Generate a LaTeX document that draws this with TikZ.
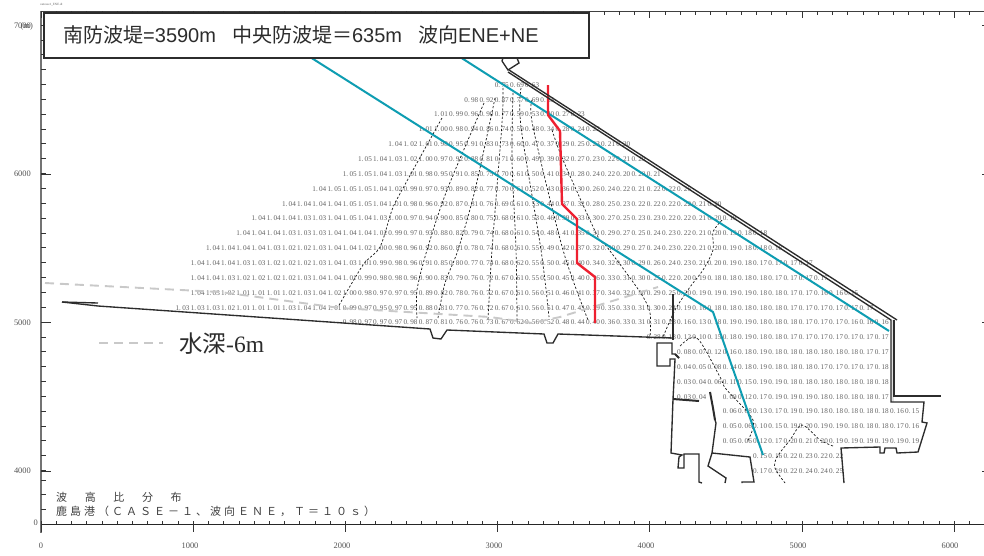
\documentclass[tikz,border=0pt]{standalone}
\usepackage{fontspec}
\setmainfont{Liberation Serif}
\newfontfamily\cjk{Noto Sans CJK JP}
\newfontfamily\sanslat{Liberation Sans}
\definecolor{tealline}{HTML}{0E9DB2}
\definecolor{redline}{HTML}{EE2030}
\definecolor{darkline}{HTML}{2C2C2C}
\definecolor{numgrey}{HTML}{626262}
\definecolor{dashgrey}{HTML}{C9C9C9}
\def\splitnum#1.#2\relax{#1.\kern1.3pt #2}
\newcommand{\numrow}[3]{%
  \foreach \v [count=\i from 0] in {#3} {%
    \pgfmathsetmacro{\cx}{677-(#2)*15.2+\i*15.2}
    \pgfmathsetmacro{\cy}{174+(#1)*14.85}
    \node[cellnum] (r#1c\i) at (\cx,\cy) {\expandafter\splitnum\v\relax};
  }%
}
\newcommand{\spacedtext}[2]{\foreach \c in {#2}{\makebox[#1][l]{\c}}}
\tikzset{
  cellnum/.style={anchor=west,inner sep=0pt,font=\fontsize{7.2}{8}\selectfont\rmfamily,text=numgrey},
  axislabel/.style={inner sep=0pt,font=\fontsize{8.4}{9}\selectfont,text=numgrey!85!black},
  contourline/.style={draw=black!90,line width=0.7pt,dash pattern=on 2.2pt off 1.9pt},
  shore/.style={draw=darkline,line width=1.35pt,line join=miter},
  tealpath/.style={draw=tealline,line width=2pt},
  redpath/.style={draw=redline,line width=2.4pt},
  greydash/.style={draw=dashgrey,line width=1.9pt,dash pattern=on 9pt off 6pt},
  tickline/.style={draw=black!80,line width=0.7pt}
}
\begin{document}
\begin{tikzpicture}[x=1pt,y=-1pt]
\useasboundingbox (0,0) rectangle (984,555);
\fill[white] (0,0) rectangle (984,555);

% numbers
\numrow{-6}{12}{0.75,0.69,0.63}
\numrow{-5}{14}{0.98,0.92,0.87,0.77,0.69,0.63}
\numrow{-4}{16}{1.01,0.99,0.96,0.90,0.77,0.59,0.53,0.40,0.27,0.23}
\numrow{-3}{17}{1.01,1.00,0.98,0.94,0.86,0.74,0.59,0.48,0.34,0.28,0.24,0.22}
\numrow{-2}{19}{1.04,1.02,1.01,0.98,0.95,0.91,0.83,0.73,0.60,0.47,0.37,0.29,0.25,0.23,0.21,0.20}
\numrow{-1}{21}{1.05,1.04,1.03,1.02,1.00,0.97,0.92,0.88,0.81,0.71,0.60,0.49,0.39,0.32,0.27,0.23,0.22,0.21,0.20}
\numrow{0}{22}{1.05,1.05,1.04,1.03,1.01,0.98,0.95,0.91,0.85,0.75,0.70,0.61,0.50,0.41,0.34,0.28,0.24,0.22,0.20,0.20,0.21}
\numrow{1}{24}{1.04,1.05,1.05,1.05,1.04,1.02,0.99,0.97,0.93,0.89,0.82,0.77,0.70,0.61,0.52,0.43,0.36,0.30,0.26,0.24,0.22,0.21,0.22,0.22,0.25}
\numrow{2}{26}{1.04,1.04,1.04,1.04,1.05,1.05,1.04,1.01,0.98,0.96,0.92,0.87,0.81,0.76,0.69,0.61,0.53,0.44,0.37,0.32,0.28,0.25,0.23,0.22,0.22,0.22,0.22,0.21,0.20}
\numrow{3}{28}{1.04,1.04,1.04,1.03,1.03,1.04,1.05,1.04,1.03,1.00,0.97,0.94,0.90,0.85,0.80,0.75,0.68,0.61,0.53,0.46,0.39,0.33,0.30,0.27,0.25,0.23,0.23,0.22,0.22,0.21,0.20,0.19}
\numrow{4}{29}{1.04,1.04,1.04,1.03,1.03,1.03,1.04,1.04,1.04,1.02,0.99,0.97,0.93,0.88,0.82,0.79,0.74,0.68,0.61,0.54,0.48,0.41,0.35,0.31,0.29,0.27,0.25,0.24,0.23,0.22,0.21,0.20,0.19,0.18,0.18}
\numrow{5}{31}{1.04,1.04,1.04,1.04,1.03,1.02,1.02,1.03,1.04,1.04,1.02,1.00,0.98,0.96,0.92,0.86,0.81,0.78,0.74,0.68,0.61,0.55,0.49,0.42,0.37,0.32,0.30,0.29,0.27,0.24,0.23,0.22,0.21,0.20,0.19,0.18,0.18,0.18}
\numrow{6}{32}{1.04,1.04,1.04,1.03,1.03,1.02,1.02,1.02,1.03,1.04,1.03,1.01,0.99,0.98,0.96,0.91,0.85,0.80,0.77,0.74,0.68,0.62,0.55,0.50,0.45,0.40,0.34,0.32,0.30,0.29,0.26,0.24,0.23,0.21,0.20,0.19,0.18,0.17,0.17,0.17,0.17}
\numrow{7}{32}{1.04,1.04,1.03,1.02,1.02,1.02,1.02,1.03,1.04,1.04,1.01,0.99,0.98,0.98,0.96,0.90,0.83,0.79,0.76,0.72,0.67,0.61,0.55,0.50,0.45,0.40,0.36,0.33,0.31,0.30,0.25,0.22,0.20,0.19,0.18,0.18,0.18,0.18,0.17,0.17,0.17,0.17}
\numrow{8}{32}{1.04,1.03,1.02,1.01,1.01,1.01,1.02,1.03,1.04,1.02,1.00,0.98,0.97,0.97,0.95,0.89,0.82,0.78,0.76,0.72,0.67,0.61,0.56,0.51,0.46,0.41,0.37,0.34,0.32,0.30,0.29,0.25,0.20,0.19,0.19,0.19,0.19,0.18,0.18,0.17,0.17,0.16,0.16,0.15}
\numrow{9}{33}{1.03,1.03,1.03,1.02,1.01,1.01,1.01,1.03,1.04,1.04,1.01,0.99,0.97,0.95,0.97,0.95,0.88,0.81,0.77,0.76,0.72,0.67,0.61,0.56,0.51,0.47,0.43,0.39,0.35,0.33,0.31,0.30,0.24,0.19,0.16,0.18,0.18,0.18,0.18,0.18,0.17,0.17,0.17,0.17,0.17,0.17}
\numrow{10}{22}{0.98,0.97,0.97,0.97,0.98,0.87,0.81,0.76,0.76,0.73,0.67,0.62,0.56,0.52,0.48,0.44,0.40,0.36,0.33,0.31,0.31,0.28,0.16,0.13,0.18,0.19,0.19,0.18,0.18,0.18,0.17,0.17,0.17,0.16,0.16,0.16}
\numrow{11}{2}{0.28,0.18,0.12,0.10,0.15,0.18,0.19,0.18,0.18,0.17,0.17,0.17,0.17,0.17,0.17,0.17}
\numrow{12}{0}{0.08,0.07,0.12,0.16,0.18,0.19,0.18,0.18,0.18,0.18,0.18,0.18,0.17,0.17}
\numrow{13}{0}{0.04,0.05,0.08,0.14,0.18,0.19,0.18,0.18,0.18,0.17,0.17,0.17,0.17,0.18}
\numrow{14}{0}{0.03,0.04,0.06,0.11,0.15,0.19,0.19,0.18,0.18,0.18,0.18,0.18,0.18,0.18}
\numrow{15}{0}{0.03,0.04}
\numrow{15}{-3}{0.09,0.12,0.17,0.19,0.19,0.19,0.18,0.18,0.18,0.18,0.17}
\numrow{16}{-3}{0.06,0.08,0.13,0.17,0.19,0.19,0.18,0.18,0.18,0.18,0.18,0.16,0.15}
\numrow{17}{-3}{0.05,0.06,0.10,0.15,0.19,0.20,0.19,0.19,0.18,0.18,0.18,0.17,0.16}
\numrow{18}{-3}{0.05,0.06,0.12,0.17,0.20,0.21,0.20,0.19,0.19,0.19,0.19,0.19,0.19}
\numrow{19}{-5}{0.15,0.16,0.22,0.23,0.22,0.22}
\numrow{20}{-5}{0.17,0.19,0.22,0.24,0.24,0.25}

% contours
\draw[contourline] plot[smooth,tension=0.5] coordinates {(442,118) (402,190) (392,210) (380,247) (363,265) (338,307)};
\draw[contourline] plot[smooth,tension=0.5] coordinates {(484,103) (447,190) (427,250) (417,290) (417,318)};
\draw[contourline] plot[smooth,tension=0.5] coordinates {(495,98) (475,190) (458,250) (445,283) (438,318)};
\draw[contourline] plot[smooth,tension=0.5] coordinates {(503,88) (502,123) (492,250) (488,320)};
\draw[contourline] plot[smooth,tension=0.5] coordinates {(513,93) (512,160) (516,250) (517,320)};
\draw[contourline] plot[smooth,tension=0.5] coordinates {(521,88) (521,127) (541,250) (549,317)};
\draw[contourline] plot[smooth,tension=0.5] coordinates {(532,100) (533,127) (563,250) (588,320)};
\draw[contourline] plot[smooth,tension=0.5] coordinates {(552,130) (563,160) (597,235) (607,247) (640,292) (650,313) (650,337)};
\draw[contourline] plot[smooth,tension=0.5] coordinates {(722,220) (713,232) (713,250) (703,270) (690,287) (675,310) (663,337)};
\draw[contourline] plot[smooth,tension=0.5] coordinates {(680,346) (697,338) (720,377) (726,389) (753,420) (747,442)};
\draw[contourline] plot[smooth,tension=0.5] coordinates {(833,446) (820,440) (802,425) (790,440) (777,457) (775,468) (785,483)};

% grey -6m contour and legend
\draw[greydash] (45,283) -- (220,292) -- (340,308) -- (490,317) -- (532,323) -- (560,317) -- (658,287);
\coordinate (legA) at (99,343);
\coordinate (legB) at (163,343);
\draw[greydash] (legA) -- (legB);

% teal and red lines
\draw[tealpath] (310,57) -- (713,312) -- (763,455);
\draw[tealpath] (460,57) -- (889,331);
\draw[redpath] (548,85) -- (548,115) -- (560,131) -- (562,204) -- (577,219) -- (577,263) -- (595,277) -- (595,323);

% shoreline
\draw[shore] (62,302) -- (98,303);
\draw[shore] (62,302) -- (98,306) -- (430,329) -- (433,338) -- (441,339) -- (447,330) -- (544,334) -- (547,343) -- (553,343) -- (558,334) -- (673,338);
\draw[shore,line width=2pt] (673,294) -- (673,340);
\draw[shore] (679,358) -- (675,354) -- (672,354) -- (672,343) -- (657,343) -- (657,366) -- (670,366) -- (670,359) -- (675,359) -- (674,380) -- (673,399) -- (671,453) -- (682,455) -- (679,457) -- (678,468) -- (684,468) -- (684,454) -- (699,454) -- (699,482) -- (702,483);
\draw[shore,line width=2pt] (679,358) -- (675,354);
\draw[shore,line width=2pt] (673,399) -- (699,401);
\draw[shore,line width=2pt] (710,392) -- (713,408) -- (715,420);
\draw[shore] (715,420) -- (716,423) -- (712,453) -- (708,466) -- (726,478) -- (725,483);
\draw[shore] (712,453) -- (750,457) -- (754,482) -- (742,482) -- (742,483);

% breakwater
\fill[black!12] (891,320) -- (894,320) -- (894,402) -- (891,402) -- cycle;
\draw[shore] (502,61) -- (508,70) -- (519,63) -- (517,58);
\draw[shore] (502,61) -- (503,58);
\draw[shore] (509,70) -- (897,320);
\draw[shore] (894,320) -- (894,396) -- (941,396);
\draw[shore] (508,72) -- (891,320) -- (891,402) -- (924,402) -- (922,422) -- (927,423) -- (918,452) -- (897,453) -- (896,448) -- (885,448) -- (884,453) -- (880,453) -- (880,447) -- (841,448) -- (844,483);

% axes
\draw[black!55,line width=2pt] (41,11) -- (41,533);
\draw[black!85,line width=0.8pt] (41,524) -- (984,524);
\draw[black!75,line width=0.9pt] (41,11) -- (984,11);
\foreach \k in {0,...,62} {
  \pgfmathsetmacro{\tx}{41+\k*15.22}
  \draw[tickline] (\tx,524) -- (\tx,521);
  \draw[tickline] (\tx,11) -- (\tx,15);
}
\foreach \k in {0,...,6} {
  \pgfmathsetmacro{\tx}{41+\k*152.2}
  \draw[tickline,line width=0.9pt] (\tx,524) -- (\tx,532);
  \draw[tickline] (\tx,11) -- (\tx,18);
}
\foreach \k in {0,...,30} {
  \pgfmathsetmacro{\ty}{25+\k*14.85}
  \draw[tickline] (41,\ty) -- (46,\ty);
}
\foreach \ty in {480,494.5,509.5} \draw[tickline] (41,\ty) -- (46,\ty);
\foreach \ty in {174,322.7,471} {
  \draw[tickline] (41,\ty) -- (51,\ty);
  \draw[tickline] (982,\ty) -- (984,\ty);
}
\draw[tickline] (982,25) -- (984,25);

\node[axislabel,anchor=east] (y7) at (31,26) {7000};
\node[axislabel,anchor=east] (ym) at (33,26) {(m)};
\node[axislabel,anchor=east] (y6) at (31,174) {6000};
\node[axislabel,anchor=east] (y5) at (31,322.5) {5000};
\node[axislabel,anchor=east] (y4) at (31,471) {4000};
\node[axislabel,anchor=east] (y0) at (38,523) {0};
\node[axislabel] (x0) at (41,546) {0};
\node[axislabel] (x1) at (190,546) {1000};
\node[axislabel] (x2) at (342,546) {2000};
\node[axislabel] (x3) at (494,546) {3000};
\node[axislabel] (x4) at (646,546) {4000};
\node[axislabel] (x5) at (798,546) {5000};
\node[axislabel] (x6) at (950,546) {6000};

\node[anchor=west,inner sep=0pt,font=\fontsize{3.2}{4}\selectfont,text=numgrey] (fname) at (40,5) {outcase1\_ENE.dt};

% title box
\node[draw=darkline,fill=white,line width=2pt,minimum width=545.5pt,minimum height=45.5pt,anchor=north west,inner sep=0pt] (titlebox) at (42.5,11.5) {};
\node[anchor=west,inner sep=0pt,text=darkline,font=\fontsize{20}{22}\selectfont\sanslat] (titletext) at (63,35) {{\cjk 南防波堤}=3590m\hspace{16pt}{\cjk 中央防波堤＝}635m\hspace{16pt}{\cjk 波向}ENE+NE};

% legend text
\node[anchor=west,inner sep=0pt,text=darkline,font=\fontsize{23.5}{26}\selectfont] (legtext) at (179,343.5) {{\cjk 水深}-6m};

% caption
\node[anchor=west,inner sep=0pt,text=black!75,font=\fontsize{11}{13}\selectfont\cjk] (cap1) at (56,497) {\spacedtext{28.6pt}{波,高,比,分,布}};
\node[anchor=west,inner sep=0pt,text=black!75,font=\fontsize{11}{13}\selectfont\cjk] (cap2) at (56,511.5) {\spacedtext{14pt}{鹿,島,港,（,Ｃ,Ａ,Ｓ,Ｅ,－,１,、,波,向,Ｅ,Ｎ,Ｅ,，,Ｔ,＝,１,０,ｓ,）}};
\end{tikzpicture}
\end{document}
